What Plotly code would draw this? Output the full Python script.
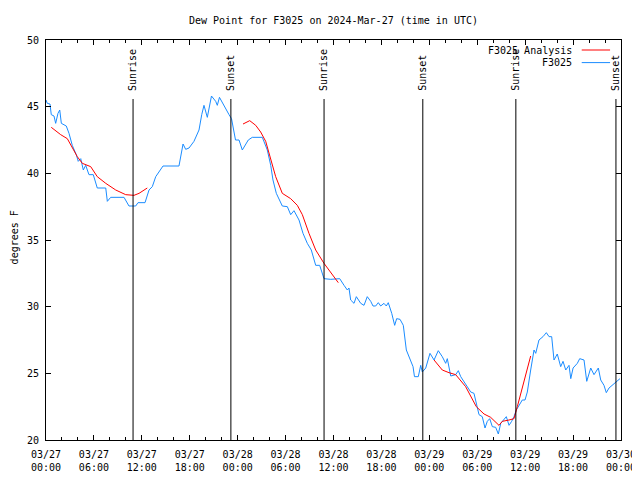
import pandas as pd
import plotly.graph_objects as go

start = pd.Timestamp("2024-03-27 00:00")

# F3025 observations: hours since 2024-03-27 00:00 UTC, dew point (F)
obs_hours = [0.0, 0.16, 0.5, 0.66, 1.0, 1.21, 1.5, 1.72, 1.92, 2.54, 2.88, 3.29, 3.79, 4.04, 4.35,
             4.67, 4.97, 5.38, 5.92, 6.42, 7.48, 7.68, 8.1, 9.77, 10.39, 11.23, 11.52, 12.4, 12.9,
             13.31, 13.74, 14.15, 14.65, 16.65, 17.16, 17.49, 17.91, 18.53, 19.16, 19.5, 19.78,
             20.2, 20.72, 21.25, 21.45, 21.72, 22.5, 22.92, 23.23, 23.73, 24.17, 24.58, 25.33,
             25.83, 27.09, 27.71, 28.14, 28.42, 28.84, 29.59, 30.22, 30.64, 31.05, 31.68, 32.18,
             32.72, 33.22, 33.77, 34.27, 34.81, 35.65, 36.28, 36.78, 37.32, 37.73, 37.94, 38.15,
             38.57, 38.86, 39.41, 39.82, 40.23, 40.66, 40.95, 41.28, 41.61, 41.91, 42.32, 42.61,
             42.86, 43.29, 43.66, 43.91, 44.33, 44.74, 45.12, 45.45, 45.67, 45.96, 46.14, 46.62,
             46.92, 47.12, 47.55, 48.08, 48.59, 49.12, 49.62, 50.05, 50.25, 50.68, 51.3, 51.63,
             51.93, 52.76, 53.18, 53.59, 53.88, 54.22, 54.63, 54.97, 55.26, 55.56, 55.89, 56.31,
             56.64, 56.94, 57.64, 57.98, 58.31, 58.6, 58.89, 59.23, 59.64, 59.98, 60.27, 60.69,
             61.11, 61.32, 61.73, 62.23, 62.65, 62.99, 63.32, 63.61, 64.02, 64.45, 64.74, 65.08,
             65.49, 65.71, 66.0, 66.53, 66.83, 67.37, 67.71, 68.21, 68.62, 69.16, 69.46, 69.87,
             70.16, 70.5, 70.91, 71.54, 71.87]
obs_values = [45.5, 45.25, 45.2, 44.4, 44.3, 43.75, 44.5, 44.75, 43.75, 43.55, 43.0, 42.1, 41.4,
              40.9, 41.1, 40.25, 40.6, 39.9, 39.9, 38.9, 38.9, 37.9, 38.2, 38.2, 37.55, 37.55,
              37.8, 37.8, 38.75, 39.0, 39.75, 40.1, 40.55, 40.55, 42.2, 41.8, 41.9, 42.4, 43.25,
              44.4, 45.1, 44.2, 45.8, 45.4, 45.1, 45.7, 44.8, 44.4, 44.1, 42.5, 42.5, 41.75,
              42.5, 42.7, 42.7, 41.75, 40.6, 39.5, 38.5, 37.55, 37.5, 36.9, 37.2, 36.5, 35.5,
              34.75, 34.25, 33.1, 33.1, 32.1, 32.05, 32.1, 32.1, 31.6, 31.25, 31.4, 30.5, 30.25,
              30.75, 30.25, 30.1, 30.75, 30.4, 30.05, 30.05, 30.3, 30.05, 30.25, 30.05, 30.3,
              29.5, 28.6, 29.1, 29.05, 28.6, 26.75, 26.25, 25.9, 25.5, 24.75, 24.75, 25.6, 25.1,
              25.4, 26.5, 26.0, 26.7, 26.25, 25.75, 26.1, 24.8, 24.9, 25.2, 24.75, 24.05, 23.6,
              23.5, 22.75, 21.9, 21.75, 20.9, 21.4, 21.6, 21.0, 20.95, 20.45, 21.25, 21.75, 21.1,
              21.4, 21.75, 22.25, 22.6, 23.0, 23.0, 23.6, 25.25, 26.75, 26.5, 27.5, 27.75, 28.05,
              27.75, 27.75, 26.0, 26.45, 25.5, 25.9, 25.25, 25.6, 24.6, 25.4, 25.75, 26.1, 26.0,
              24.4, 25.4, 24.9, 25.4, 24.5, 24.1, 23.55, 23.9, 24.1, 24.4, 24.6]

# F3025 Analysis (three segments separated by gaps)
ana_hours = [0.66, 1.21, 1.84, 2.67, 3.29, 3.92, 4.55, 5.6, 6.42, 7.48, 8.73, 9.98, 11.02, 11.65,
             12.68, None,
             24.67, 25.51, 26.26, 26.88, 27.51, 28.14, 28.76, 29.59, 30.64, 31.47, 32.1, 32.93,
             33.77, 34.81, 35.65, 36.6, None,
             48.59, 49.62, 50.46, 51.3, 52.55, 53.18, 53.88, 54.85, 55.68, 56.72, 57.14, 57.98,
             58.6, 59.02, 59.64, 60.27, 60.69]
ana_values = [43.45, 43.2, 42.9, 42.6, 41.9, 41.25, 40.75, 40.5, 39.75, 39.25, 38.75, 38.4, 38.35,
              38.5, 38.9, None,
              43.7, 43.95, 43.6, 43.1, 42.4, 41.1, 39.75, 38.5, 38.1, 37.6, 36.9, 35.5, 34.25,
              33.25, 32.6, 31.8, None,
              26.0, 25.25, 25.05, 24.9, 24.0, 23.25, 22.5, 21.95, 21.7, 21.1, 21.4, 21.5, 21.6,
              22.5, 23.9, 25.25, 26.3]

sun_times = ["2024-03-27 10:54", "2024-03-27 23:09", "2024-03-28 10:49",
             "2024-03-28 23:11", "2024-03-29 10:50", "2024-03-29 23:22"]
sun_labels = ["Sunrise", "Sunset", "Sunrise", "Sunset", "Sunrise", "Sunset"]

tick_times = ["2024-03-27 00:00", "2024-03-27 06:00", "2024-03-27 12:00", "2024-03-27 18:00",
              "2024-03-28 00:00", "2024-03-28 06:00", "2024-03-28 12:00", "2024-03-28 18:00",
              "2024-03-29 00:00", "2024-03-29 06:00", "2024-03-29 12:00", "2024-03-29 18:00",
              "2024-03-30 00:00"]
tick_labels = ["03/27<br>00:00", "03/27<br>06:00", "03/27<br>12:00", "03/27<br>18:00",
               "03/28<br>00:00", "03/28<br>06:00", "03/28<br>12:00", "03/28<br>18:00",
               "03/29<br>00:00", "03/29<br>06:00", "03/29<br>12:00", "03/29<br>18:00",
               "03/30<br>00:00"]

RED = "#ff0000"
BLUE = "#1a8cff"
FONT = "DejaVu Sans Mono"


def to_time(hours):
    return [None if h is None else start + pd.Timedelta(hours=h) for h in hours]


fig = go.Figure()
fig.add_trace(go.Scatter(x=to_time(obs_hours), y=obs_values, mode="lines",
                         line=dict(color=BLUE, width=1), name="F3025",
                         showlegend=False, connectgaps=False))
fig.add_trace(go.Scatter(x=to_time(ana_hours), y=ana_values, mode="lines",
                         line=dict(color=RED, width=1), name="F3025 Analysis",
                         showlegend=False, connectgaps=False))

for t, lab in zip(sun_times, sun_labels):
    fig.add_shape(type="line", xref="x", yref="paper", x0=t, x1=t, y0=0, y1=0.8525,
                  line=dict(color="black", width=1))
    fig.add_annotation(x=t, xref="x", y=0.8675, yref="paper", text=lab, textangle=-90,
                       showarrow=False, xanchor="center", yanchor="bottom",
                       font=dict(family=FONT, size=10, color="black"))

# legend (text right aligned, line sample on the right, as in the original)
legend_items = [("F3025 Analysis", RED, 0.975), ("F3025", BLUE, 0.9435)]
for name, col, yy in legend_items:
    fig.add_annotation(x=0.918, xref="paper", y=yy, yref="paper", text=name, showarrow=False,
                       xanchor="right", yanchor="middle",
                       font=dict(family=FONT, size=10, color="black"))
    fig.add_shape(type="line", xref="paper", yref="paper", x0=0.9317, x1=0.981, y0=yy, y1=yy,
                  line=dict(color=col, width=1))

fig.add_annotation(x=-0.055, xref="paper", y=0.5075, yref="paper", text="degrees F",
                   textangle=-90, showarrow=False, xanchor="center", yanchor="middle",
                   font=dict(family=FONT, size=10, color="black"))

# the page body adds an 8px offset, so the figure is 8px smaller and margins shifted
fig.update_layout(
    width=632, height=472,
    margin=dict(l=38, r=19, t=32, b=40, pad=0),
    paper_bgcolor="white", plot_bgcolor="white",
    font=dict(family=FONT, size=10, color="black"),
    title=dict(text="Dew Point for F3025 on 2024-Mar-27 (time in UTC)", x=0.515,
               xanchor="center", y=1 - 12 / 472, yanchor="middle", yref="container",
               font=dict(family=FONT, size=10, color="black")),
    showlegend=False,
)
fig.update_xaxes(
    range=[tick_times[0], tick_times[-1]], tickmode="array", tickvals=tick_times,
    ticktext=tick_labels, ticks="inside", ticklen=5, tickcolor="black", tickwidth=1,
    showline=True, linecolor="black", linewidth=1, mirror="ticks", showgrid=False,
    zeroline=False, ticklabelstandoff=5, automargin=False,
    minor=dict(dtick=2 * 3600 * 1000, ticks="inside", ticklen=3, tickcolor="black",
               showgrid=False),
)
fig.update_yaxes(
    range=[20, 50], tickmode="linear", tick0=20, dtick=5, ticks="inside", ticklen=5,
    tickcolor="black", showline=True, linecolor="black", linewidth=1, mirror="ticks",
    showgrid=False, zeroline=False, ticklabelstandoff=4, automargin=False,
)

fig.write_html("out.html")
